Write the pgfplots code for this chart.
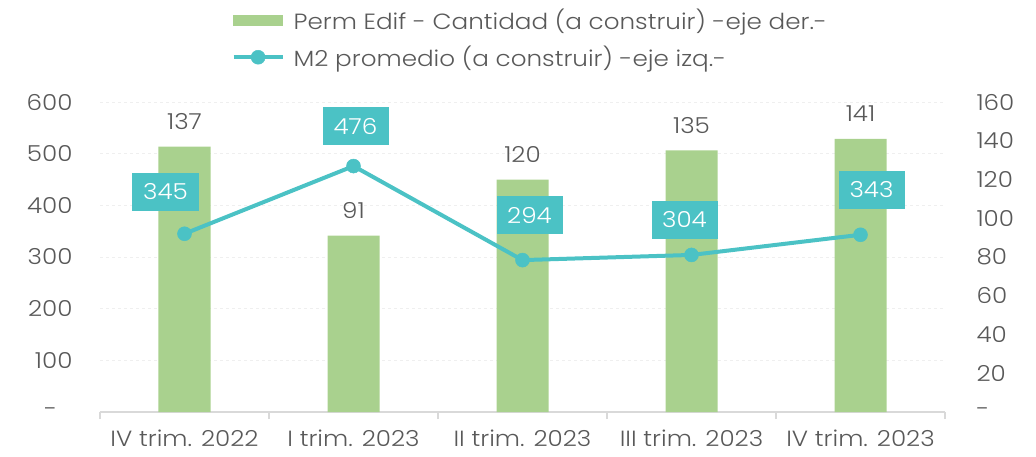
\documentclass[border=0pt]{standalone}
\usepackage{pgfplots}
\pgfplotsset{compat=1.18}
\usepackage{pgfplotstable}
\usepackage{fontspec}
\IfFontExistsTF{Poppins Light}
  {\setmainfont{Poppins Light}[FakeStretch=1.12]}
  {\setmainfont{Poppins}[FakeStretch=1.12]}

\definecolor{barGreen}{HTML}{A9D18E}
\definecolor{lineTeal}{HTML}{4BC2C5}
\definecolor{txtGray}{HTML}{595959}
\definecolor{axGray}{HTML}{D9D9D9}
\definecolor{gridGray}{HTML}{EFEFEF}

% Perm Edif - Cantidad (eje der.)
\pgfplotstableread{
x perm
0 137
1 91
2 120
3 135
4 141
}\permtable

% M2 promedio (eje izq.), dx/dy = offset of the label box
\pgfplotstableread{
x m2 dx dy
0 345 -19 42
1 476 2 40
2 294 7 45
3 304 -7 35
4 343 11 45
}\mtable

\newcommand{\fs}{\fontsize{22}{26}\selectfont}

\pgfplotsset{
  base/.style={
    scale only axis, width=845pt, height=310pt,
    at={(0,0)}, anchor=south west,
    xmin=-0.5, xmax=4.5,
    major tick length=0pt,
    tick label style={font=\fs, text=txtGray},
    /pgf/number format/assume math mode=true,
  },
  linelegend/.style={legend image code/.code={%
    \draw[mark repeat=2, mark phase=2, ##1]
      plot coordinates {(0pt,0pt) (24.5pt,0pt) (49pt,0pt)};}},
  barlegend/.style={legend image code/.code={%
    \fill[barGreen] (0pt,-5pt) rectangle (49pt,5pt);}},
}

\begin{document}
\begin{tikzpicture}[font=\fs]
\path[use as bounding box] (-100pt,-44pt) rectangle (936pt,412pt);

% bars, right axis
\begin{axis}[base,
  ymin=0, ymax=160,
  axis y line*=right, axis x line*=bottom,
  y axis line style={draw=none},
  x axis line style={axGray, line width=1.5pt, -},
  ytick={0,20,...,160},
  yticklabels={-,20,40,60,80,100,120,140,160},
  yticklabel style={xshift=28pt},
  xtick={0,...,4},
  xticklabels={IV trim. 2022, I trim. 2023, II trim. 2023, III trim. 2023, IV trim. 2023},
  xticklabel style={yshift=-14pt},
  extra x ticks={-0.5,0.5,1.5,2.5,3.5,4.5},
  extra x tick labels={},
  extra x tick style={major tick length=7pt, tick align=outside,
    tick style={axGray, line width=1.5pt}},
  extra y ticks={26.667,53.333,80,106.667,133.333,160},
  extra y tick labels={},
  extra y tick style={ymajorgrids, major grid style={gridGray, dashed, line width=1pt}},
]
\addplot[ybar, bar width=52pt, fill=barGreen, draw=none,
  nodes near coords,
  every node near coord/.append style={anchor=center, yshift=25pt, text=txtGray,
    font=\fs}]
  table[x=x, y=perm] {\permtable};
\end{axis}

% line, left axis
\begin{axis}[base,
  ymin=0, ymax=600,
  axis y line*=left, hide x axis,
  y axis line style={draw=none},
  ytick={0,100,...,600},
  yticklabels={-\hphantom{0},100,200,300,400,500,600},
  yticklabel style={xshift=-24pt},
  legend style={at={(axis description cs:0.152,1.313)}, anchor=north west,
    draw=none, fill=none, text=txtGray, font=\fs,
    row sep=11pt, legend cell align=left,
    nodes={inner xsep=9pt}},
]
\addlegendimage{barlegend}
\addlegendentry{Perm Edif - Cantidad (a construir) -eje der.-}
\addplot[lineTeal, line width=4pt, mark=*, mark size=7pt,
  mark options={fill=lineTeal, draw=lineTeal, line width=0.5pt},
  linelegend,
  nodes near coords,
  visualization depends on={\thisrow{dx}\as\dx},
  visualization depends on={\thisrow{dy}\as\dy},
  every node near coord/.append style={fill=lineTeal, text=white, anchor=center,
    xshift=\dx*1pt, yshift=\dy*1pt, minimum width=66pt, minimum height=38pt,
    inner sep=0pt, font=\fs}]
  table[x=x, y=m2] {\mtable};
\addlegendentry{M2 promedio (a construir) -eje izq.-}
\end{axis}
\end{tikzpicture}
\end{document}
